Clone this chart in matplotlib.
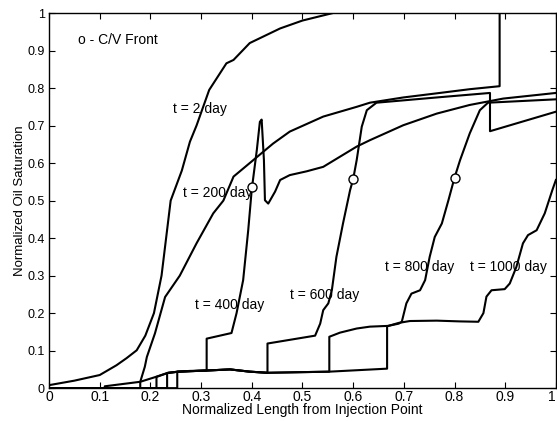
import matplotlib
matplotlib.use('Agg')
import matplotlib.pyplot as plt

plt.rcParams['font.family'] = ['Liberation Sans', 'DejaVu Sans']

# saturation profiles (x = normalized length, y = normalized oil saturation)
x_t2 = [0, 0.05, 0.1, 0.133, 0.153, 0.173, 0.19, 0.207, 0.222, 0.231, 0.24, 0.262, 0.278, 0.291,
        0.316, 0.35, 0.364, 0.396, 0.436, 0.456, 0.5, 0.56, 0.6]
y_t2 = [0.008, 0.02, 0.035, 0.061, 0.08, 0.101, 0.14, 0.2, 0.3, 0.4, 0.5, 0.58, 0.657, 0.70,
        0.795, 0.866, 0.875, 0.92, 0.946, 0.959, 0.98, 1.0, 1.02]

x_t200 = [0, 0.11, 0.11, 0.18, 0.189, 0.193, 0.209, 0.229, 0.258, 0.291, 0.324, 0.344, 0.364,
          0.403, 0.442, 0.475, 0.541, 0.607, 0.633, 0.699, 0.765, 0.83, 0.889, 0.889]
y_t200 = [0, 0, 0.005, 0.017, 0.057, 0.083, 0.146, 0.243, 0.30, 0.386, 0.466, 0.50, 0.564,
          0.608, 0.652, 0.684, 0.724, 0.75, 0.761, 0.775, 0.786, 0.797, 0.805, 1.05]

x_t400 = [0, 0.18, 0.18, 0.206, 0.235, 0.255, 0.278, 0.311, 0.311, 0.36, 0.37, 0.383, 0.393, 0.4,
          0.41, 0.416, 0.4195, 0.424, 0.426, 0.4325, 0.446, 0.456, 0.475, 0.508, 0.541, 0.574,
          0.607, 0.633, 0.699, 0.765, 0.83, 0.896, 1.0]
y_t400 = [0, 0, 0.017, 0.028, 0.041, 0.044, 0.046, 0.047, 0.132, 0.147, 0.2, 0.288, 0.421, 0.53,
          0.635, 0.71, 0.716, 0.608, 0.501, 0.492, 0.524, 0.555, 0.568, 0.578, 0.59, 0.617,
          0.644, 0.661, 0.701, 0.732, 0.755, 0.772, 0.787]

x_t600 = [0, 0.212, 0.212, 0.235, 0.255, 0.311, 0.357, 0.396, 0.431, 0.431, 0.525, 0.535, 0.541,
          0.551, 0.558, 0.567, 0.58, 0.594, 0.6, 0.607, 0.617, 0.627, 0.646, 0.765, 0.87, 0.87, 1.0]
y_t600 = [0, 0, 0.03, 0.041, 0.044, 0.047, 0.05, 0.044, 0.041, 0.119, 0.14, 0.172, 0.208,
          0.226, 0.261, 0.35, 0.439, 0.528, 0.557, 0.608, 0.697, 0.741, 0.761, 0.775, 0.787, 0.685, 0.737]

x_t800 = [0, 0.233, 0.233, 0.255, 0.311, 0.357, 0.396, 0.431, 0.553, 0.553, 0.574, 0.607, 0.633,
          0.669, 0.69, 0.696, 0.705, 0.715, 0.732, 0.742, 0.751, 0.761, 0.775, 0.788, 0.8, 0.811,
          0.83, 0.85, 0.866, 1.0]
y_t800 = [0, 0, 0.040, 0.044, 0.047, 0.05, 0.044, 0.041, 0.044, 0.137, 0.148, 0.159, 0.164,
          0.166, 0.172, 0.177, 0.226, 0.252, 0.261, 0.288, 0.35, 0.403, 0.439, 0.501, 0.561, 0.608,
          0.679, 0.741, 0.761, 0.77]

x_t1000 = [0, 0.253, 0.253, 0.311, 0.357, 0.396, 0.431, 0.553, 0.667, 0.667, 0.69, 0.712, 0.765,
           0.81, 0.847, 0.857, 0.863, 0.873, 0.899, 0.909, 0.922, 0.935, 0.945, 0.962, 0.978, 0.993, 1.0]
y_t1000 = [0, 0, 0.044, 0.047, 0.05, 0.044, 0.041, 0.044, 0.052, 0.165, 0.174, 0.179, 0.18,
           0.178, 0.177, 0.2, 0.244, 0.261, 0.264, 0.279, 0.323, 0.386, 0.408, 0.421, 0.466, 0.528, 0.555]

# condensing/vaporizing front markers
front_x = [0.4, 0.6, 0.8]
front_y = [0.537, 0.557, 0.561]

# curve labels
labels = ['t = 2 day', 't = 200 day', 't = 400 day', 't = 600 day', 't = 800 day', 't = 1000 day']
label_x = [0.244, 0.265, 0.288, 0.475, 0.663, 0.83]
label_y = [0.743, 0.521, 0.221, 0.248, 0.322, 0.322]

fig = plt.figure(figsize=(5.57, 4.21), dpi=100)
ax = fig.add_axes([0.088, 0.078, 0.91, 0.891])

for xs, ys in [(x_t2, y_t2), (x_t200, y_t200), (x_t400, y_t400),
               (x_t600, y_t600), (x_t800, y_t800), (x_t1000, y_t1000)]:
    ax.plot(xs, ys, color='black', lw=1.5)

ax.plot(front_x, front_y, 'o', ms=6.5, mfc='white', mec='black', mew=1.0, zorder=5)

for txt, lx, ly in zip(labels, label_x, label_y):
    ax.text(lx, ly, txt, fontsize=10, va='center', ha='left')
ax.text(0.057, 0.928, 'o - C/V Front', fontsize=10, va='center', ha='left')

ax.set_xlim(0, 1)
ax.set_ylim(0, 1)
ticks = [i / 10 for i in range(11)]
tick_text = ['0'] + ['%.1f' % v for v in ticks[1:-1]] + ['1']
ax.set_xticks(ticks)
ax.set_yticks(ticks)
ax.set_xticklabels(tick_text, fontsize=10)
ax.set_yticklabels(tick_text, fontsize=9)
ax.get_xticklabels()[-1].set_ha('right')
ax.tick_params(direction='in', top=True, right=True, length=4)
ax.tick_params(axis='x', pad=1.5)
ax.tick_params(axis='y', pad=3)
for s in ax.spines.values():
    s.set_linewidth(1.0)

ax.set_xlabel('Normalized Length from Injection Point', fontsize=10, labelpad=-1)
ax.set_ylabel('Normalized Oil Saturation', fontsize=9.5, labelpad=1)

fig.savefig('out.png', dpi=100)
